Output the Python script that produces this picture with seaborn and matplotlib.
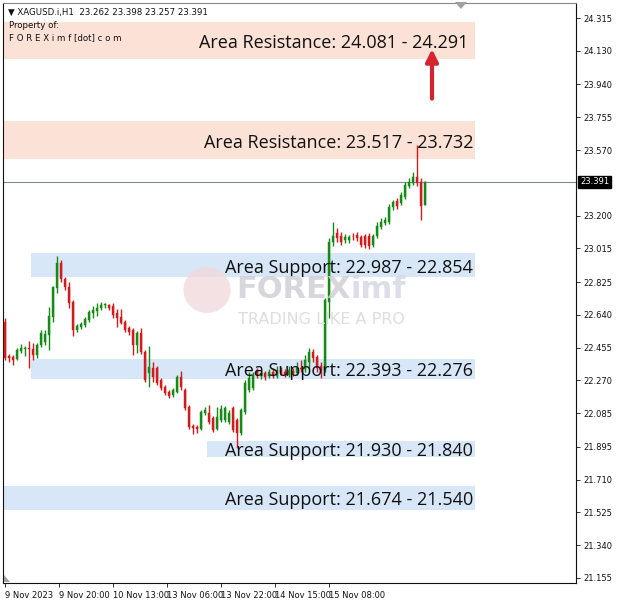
import numpy as np
import pandas as pd
import matplotlib
matplotlib.use("Agg")
import matplotlib.pyplot as plt
import matplotlib.transforms as mtransforms
from matplotlib.patches import Rectangle, Circle, Polygon
import seaborn as sns

# XAGUSD.i H1 candles
opens = [22.600, 22.408, 22.402, 22.391, 22.436, 22.447, 22.453, 22.447, 22.413, 22.471,
         22.487, 22.526, 22.628, 22.791, 22.932, 22.842, 22.797, 22.713, 22.554, 22.571,
         22.583, 22.611, 22.650, 22.662, 22.679, 22.695, 22.695, 22.690, 22.650, 22.628,
         22.600, 22.566, 22.554, 22.471, 22.538, 22.430, 22.312, 22.340, 22.340, 22.272,
         22.233, 22.205, 22.188, 22.205, 22.289, 22.216, 22.120, 22.013, 22.007, 21.996,
         22.086, 22.086, 22.058, 21.996, 22.047, 22.047, 22.035, 22.114, 22.047, 21.973,
         22.092, 22.216, 22.227, 22.329, 22.295, 22.312, 22.295, 22.318, 22.295, 22.329,
         22.318, 22.301, 22.323, 22.312, 22.340, 22.334, 22.374, 22.430, 22.402, 22.351,
         22.329, 22.713, 23.051, 23.102, 23.085, 23.062, 23.062, 23.085, 23.091, 23.079,
         23.085, 23.085, 23.034, 23.085, 23.136, 23.158, 23.164, 23.249, 23.282, 23.271,
         23.305, 23.367, 23.384, 23.418, 23.390, 23.262]
highs = [22.622, 22.419, 22.413, 22.453, 22.475, 22.464, 22.494, 22.483, 22.483, 22.554,
         22.554, 22.684, 22.803, 22.972, 22.949, 22.854, 22.825, 22.724, 22.588, 22.600,
         22.628, 22.667, 22.690, 22.707, 22.713, 22.707, 22.701, 22.707, 22.673, 22.673,
         22.611, 22.577, 22.566, 22.549, 22.566, 22.442, 22.464, 22.374, 22.351, 22.284,
         22.244, 22.216, 22.227, 22.301, 22.323, 22.227, 22.131, 22.024, 22.018, 22.103,
         22.120, 22.131, 22.069, 22.120, 22.131, 22.126, 22.103, 22.126, 22.058, 22.114,
         22.272, 22.318, 22.318, 22.340, 22.329, 22.323, 22.334, 22.340, 22.351, 22.346,
         22.334, 22.351, 22.340, 22.374, 22.385, 22.413, 22.453, 22.447, 22.413, 22.374,
         22.735, 23.074, 23.164, 23.130, 23.107, 23.096, 23.091, 23.102, 23.107, 23.091,
         23.096, 23.102, 23.096, 23.164, 23.186, 23.192, 23.265, 23.288, 23.299, 23.333,
         23.390, 23.412, 23.446, 23.598, 23.412, 23.398]
lows = [22.385, 22.374, 22.357, 22.385, 22.425, 22.408, 22.340, 22.385, 22.396, 22.458,
        22.471, 22.442, 22.600, 22.763, 22.825, 22.780, 22.679, 22.521, 22.543, 22.560,
        22.571, 22.600, 22.622, 22.633, 22.667, 22.679, 22.667, 22.622, 22.571, 22.588,
        22.543, 22.526, 22.413, 22.425, 22.419, 22.261, 22.233, 22.261, 22.244, 22.216,
        22.188, 22.171, 22.177, 22.199, 22.216, 22.103, 21.996, 21.967, 21.973, 21.990,
        22.075, 22.024, 21.979, 21.990, 22.035, 22.035, 22.024, 21.979, 21.889, 21.962,
        22.080, 22.205, 22.216, 22.284, 22.278, 22.272, 22.284, 22.284, 22.284, 22.301,
        22.289, 22.289, 22.295, 22.301, 22.318, 22.318, 22.340, 22.374, 22.318, 22.284,
        22.318, 22.622, 23.028, 23.051, 23.034, 23.045, 23.045, 23.062, 23.057, 23.023,
        23.017, 23.012, 23.023, 23.074, 23.124, 23.147, 23.153, 23.232, 23.237, 23.260,
        23.294, 23.356, 23.373, 23.367, 23.175, 23.257]
closes = [22.396, 22.396, 22.385, 22.442, 22.453, 22.453, 22.447, 22.413, 22.471, 22.538,
          22.532, 22.633, 22.797, 22.932, 22.842, 22.797, 22.707, 22.554, 22.577, 22.588,
          22.617, 22.656, 22.667, 22.679, 22.695, 22.697, 22.679, 22.639, 22.622, 22.594,
          22.554, 22.543, 22.471, 22.538, 22.430, 22.272, 22.346, 22.289, 22.255, 22.227,
          22.199, 22.182, 22.216, 22.289, 22.233, 22.114, 22.007, 22.001, 21.996, 22.092,
          22.103, 22.035, 21.990, 22.064, 22.109, 22.114, 22.086, 21.990, 21.973, 22.103,
          22.255, 22.284, 22.301, 22.301, 22.312, 22.289, 22.318, 22.295, 22.329, 22.318,
          22.301, 22.329, 22.312, 22.340, 22.334, 22.385, 22.430, 22.396, 22.340, 22.329,
          22.724, 23.051, 23.085, 23.074, 23.051, 23.079, 23.079, 23.083, 23.074, 23.034,
          23.034, 23.028, 23.085, 23.141, 23.164, 23.175, 23.249, 23.277, 23.254, 23.316,
          23.373, 23.390, 23.418, 23.384, 23.254, 23.391]

df = pd.DataFrame({"open": opens, "high": highs, "low": lows, "close": closes})
df["bar"] = np.arange(len(df))

# support / resistance zones
zone_names = ["Area Resistance", "Area Resistance", "Area Support", "Area Support",
              "Area Support", "Area Support"]
zone_a = [24.081, 23.517, 22.987, 22.393, 21.930, 21.674]
zone_b = [24.291, 23.732, 22.854, 22.276, 21.840, 21.540]
zone_start = [0, 0, 7, 7, 51, 0]
label_end = [115.75, 117, 117, 117, 117, 117]
zone_end = 118

y_ticks = [24.315, 24.130, 23.940, 23.755, 23.570, 23.200, 23.015, 22.825, 22.640,
           22.455, 22.270, 22.085, 21.895, 21.710, 21.525, 21.340, 21.155]
x_tick_bars = [0, 13.5, 27, 40.5, 54, 67.5, 81]
x_tick_labels = ["9 Nov 2023", "9 Nov 20:00", "10 Nov 13:00", "13 Nov 06:00",
                 "13 Nov 22:00", "14 Nov 15:00", "15 Nov 08:00"]
last_price = 23.391

sns.set_theme(style="white")
plt.rcParams["font.family"] = ["DejaVu Sans"]

fig = plt.figure(figsize=(6.2, 6.06), dpi=100)
ax = fig.add_axes([3 / 620, 23 / 606, 573 / 620, 580 / 606])

up_col = "#168a16"
dn_col = "#d01c1c"
res_col = "#fbe1d6"
sup_col = "#d7e7f8"

# zones
for name, a, b, s in zip(zone_names, zone_a, zone_b, zone_start):
    lo, hi = min(a, b), max(a, b)
    col = res_col if "Resistance" in name else sup_col
    ax.add_patch(Rectangle((s - 0.5, lo), zone_end - s, hi - lo, color=col, lw=0, zorder=1))

# candles
up = df[df.close >= df.open]
dn = df[df.close < df.open]
for part, col in [(up, up_col), (dn, dn_col)]:
    ax.vlines(part.bar, part.low, part.high, color=col, lw=1, zorder=3)
    h = (part.close - part.open).abs().clip(lower=0.004)
    ax.bar(part.bar, h, bottom=part[["open", "close"]].min(axis=1), width=0.72,
           color=col, edgecolor=col, lw=0.3, zorder=4)

ax.axhline(last_price, color="#7b8c8c", lw=0.8, zorder=2)

# watermark
wm = dict(transform=fig.transFigure, zorder=6)
ax.add_patch(Circle((207 / 620, 1 - 290 / 606), 0.038, transform=fig.transFigure,
                    color="#f2dadd", alpha=0.8, zorder=6, lw=0))
fig.text(236 / 620, 1 - 290 / 606, "FOREX", fontsize=22, fontweight="bold",
         color="#cfcfd6", alpha=0.85, va="center", ha="left", **wm)
fig.text(350 / 620, 1 - 290 / 606, "imf", fontsize=22, fontweight="bold",
         color="#d6d8e4", alpha=0.85, va="center", ha="left", **wm)
fig.text(238 / 620, 1 - 319 / 606, "TRADING LIKE A PRO", fontsize=11.5,
         color="#dadae0", alpha=0.9, va="center", ha="left", **wm)

# zone labels
for name, a, b, xe in zip(zone_names, zone_a, zone_b, label_end):
    ax.text(xe, (a + b) / 2 - 0.014, f"{name}: {a:.3f} - {b:.3f}", ha="right", va="center",
            fontsize=13, family="Open Sans", color="#111111", zorder=7)

ax.annotate("", xy=(106.75, 24.14), xytext=(106.75, 23.86),
            arrowprops=dict(arrowstyle="-|>", color="#d42430", lw=3, mutation_scale=18,
                            shrinkA=0, shrinkB=0), zorder=8)

ax.set_xlim(-0.5, 142.75)
ax.set_ylim(21.1267, 24.3997)

ax.yaxis.tick_right()
ax.set_yticks(y_ticks)
ax.set_yticklabels([f"{v:.3f}" for v in y_ticks])
ax.set_xticks(x_tick_bars)
ax.set_xticklabels(x_tick_labels)
for lab in ax.get_xticklabels():
    lab.set_ha("left")
ax.tick_params(axis="both", which="both", labelsize=6, colors="#111111", length=3,
               width=0.6, direction="out", pad=2, bottom=True, right=True, left=False)
ax.tick_params(axis="x", length=3, pad=3)
for sp in ax.spines.values():
    sp.set_color("#111111")
    sp.set_linewidth(0.8)
ax.spines["top"].set_color("#888888")

# current price tag
tr = mtransforms.blended_transform_factory(ax.transAxes, ax.transData)
ax.text(1.007, last_price, f"{last_price:.3f}", transform=tr, fontsize=6, color="white",
        va="center", ha="left", clip_on=False,
        bbox=dict(boxstyle="square,pad=0.2", fc="black", ec="black"))

# header
fig.text(8 / 620, 1 - 12 / 606, "▼ XAGUSD.i,H1  23.262 23.398 23.257 23.391",
         fontsize=6.2, va="center", ha="left", color="#111111")
fig.text(9 / 620, 1 - 26 / 606, "Property of:", fontsize=6.2, va="center", ha="left",
         color="#111111")
fig.text(9 / 620, 1 - 38 / 606, "F O R E X i m f [dot] c o m", fontsize=6.2,
         va="center", ha="left", color="#111111")

# chart-shift markers
fig.patches.append(Polygon([[455 / 620, 1 - 2 / 606], [467 / 620, 1 - 2 / 606],
                            [461 / 620, 1 - 9 / 606]], closed=True,
                           transform=fig.transFigure, color="#a0a0a0", lw=0))
fig.patches.append(Polygon([[4 / 620, 1 - 575 / 606], [4 / 620, 1 - 582 / 606],
                            [10 / 620, 1 - 582 / 606]], closed=True,
                           transform=fig.transFigure, color="#a0a0a0", lw=0))

fig.savefig("out.png", dpi=100, facecolor="white")
